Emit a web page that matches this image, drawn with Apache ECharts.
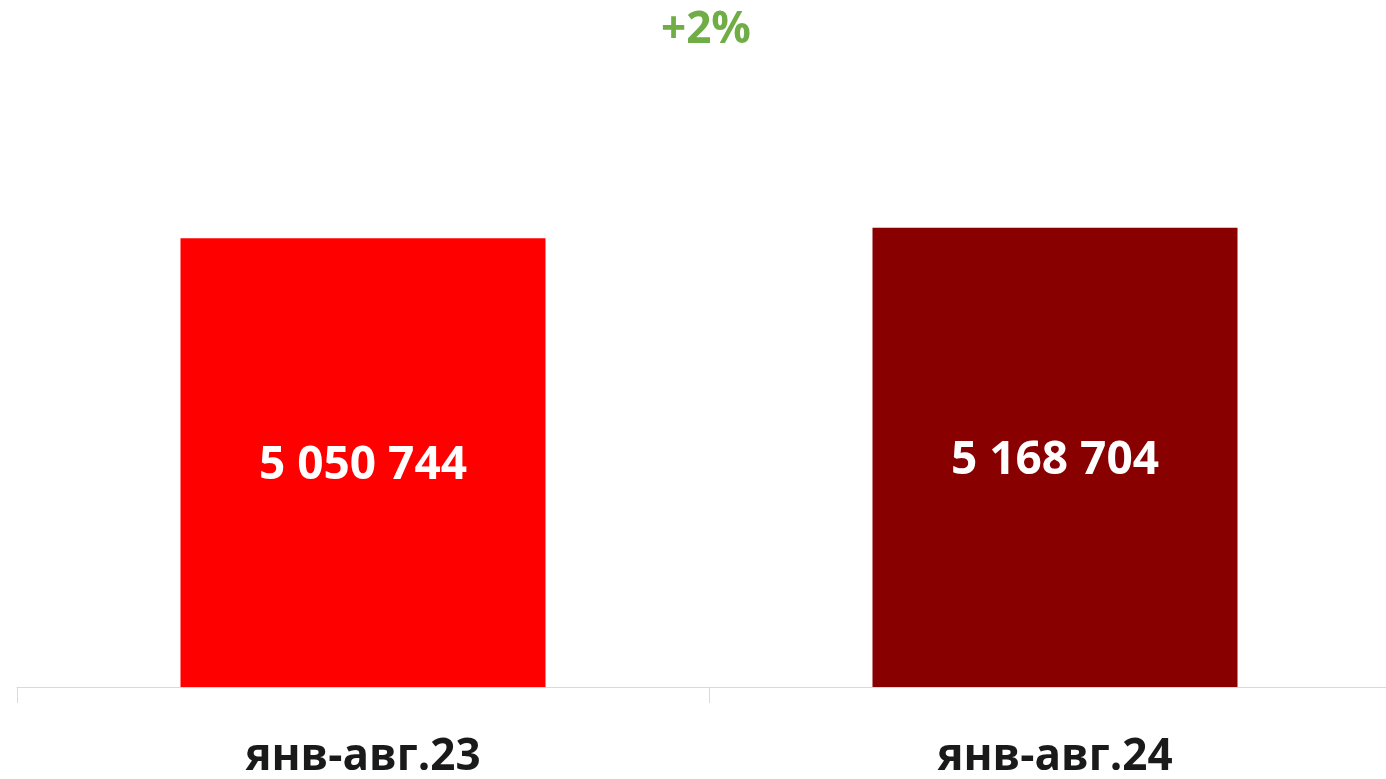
<!DOCTYPE html>
<html>
<head>
<meta charset="utf-8">
<script src="https://cdn.jsdelivr.net/npm/echarts@6/dist/echarts.min.js"></script>
<style>
  html, body { margin: 0; padding: 0; background: #fff; overflow: hidden; }
  /* plot runs past the right edge in the original, so the canvas is a bit wider than the window */
  #chart { width: 1401px; height: 779px; }
</style>
</head>
<body>
<div id="chart"></div>
<script>
const categories = ['янв-авг.23', 'янв-авг.24']
const values = [5050744, 5168704]
const barColors = ['#FF0000', '#880000']
const growthLabel = '+2%'

const fmt = function (v) {
  return String(v).replace(/\B(?=(\d{3})+(?!\d))/g, ' ')
}

const myChart = echarts.init(document.getElementById('chart'))
const option = {
  backgroundColor: '#ffffff',
  graphic: [
    {
      type: 'text',
      left: 661,
      top: 8,
      style: {
        text: growthLabel,
        fill: '#70AD47',
        fontSize: 44,
        fontWeight: 'bold',
        fontFamily: 'Open Sans'
      }
    }
  ],
  grid: {
    left: 17,
    right: 0,
    top: 154,
    bottom: 92
  },
  xAxis: {
    type: 'category',
    data: categories,
    axisLine: { lineStyle: { color: '#d9d9d9', width: 1 } },
    axisTick: { show: true, length: 16, lineStyle: { color: '#d9d9d9' } },
    axisLabel: {
      margin: 48,
      color: '#1a1a1a',
      fontSize: 44,
      fontWeight: 'bold',
      fontFamily: 'Open Sans'
    }
  },
  yAxis: {
    type: 'value',
    min: 0,
    max: 6000000,
    show: false,
    splitLine: { show: false }
  },
  series: [
    {
      type: 'bar',
      barWidth: 365,
      data: values.map(function (v, i) {
        return { value: v, itemStyle: { color: barColors[i] } }
      }),
      label: {
        show: true,
        position: 'inside',
        offset: [0, 3],
        color: '#ffffff',
        fontSize: 46,
        fontWeight: 'bold',
        fontFamily: 'Open Sans',
        formatter: function (p) { return fmt(p.value) }
      }
    }
  ]
}
myChart.setOption(option)
</script>
</body>
</html>
